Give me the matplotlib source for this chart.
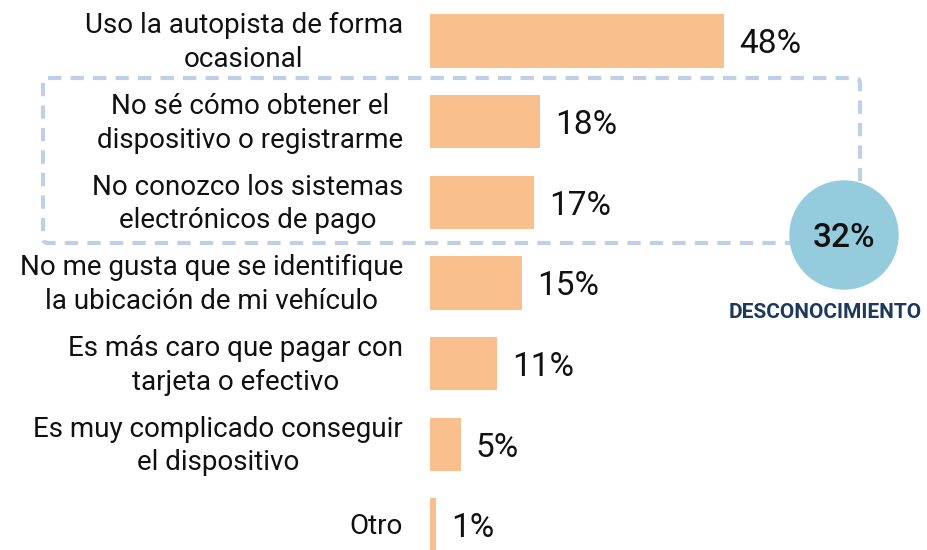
import matplotlib
matplotlib.use("Agg")
import matplotlib.pyplot as plt
from matplotlib.patches import FancyBboxPatch, Circle

categories = [
    "Uso la autopista de forma\nocasional",
    "No sé cómo obtener el\ndispositivo o registrarme",
    "No conozco los sistemas\nelectrónicos de pago",
    "No me gusta que se identifique\nla ubicación de mi vehículo",
    "Es más caro que pagar con\ntarjeta o efectivo",
    "Es muy complicado conseguir\nel dispositivo",
    "Otro",
]
values = [48, 18, 17, 15, 11, 5, 1]
group_total = 32
group_label = "DESCONOCIMIENTO"

plt.rcParams['font.family'] = ['Roboto', 'DejaVu Sans']

W, H = 928, 550
fig = plt.figure(figsize=(W / 100, H / 100), dpi=100)

px_per_unit = 6.125
x0 = 430
ax = fig.add_axes([x0 / W, 0, 1 - x0 / W, 1])
spacing = 80.67
c0 = 41
ax.set_xlim(0, (W - x0) / px_per_unit)
ax.set_ylim((H - c0) / spacing, -c0 / spacing)
ax.axis('off')

bar_color = "#f9c08e"
ys = list(range(len(values)))
ax.barh(ys, values, height=0.66, color=bar_color)
for y, v, lab in zip(ys, values, categories):
    ax.text(v + 15 / px_per_unit, y + 0.04, f"{v}%", va='center', ha='left',
            fontsize=24, color='#111111')
    ax.text(-27 / px_per_unit, y + 0.02, lab, va='center', ha='right',
            multialignment='center', fontsize=20,
            color='#111111', linespacing=1.32, clip_on=False)

# overlay in pixel coordinates
ov = fig.add_axes([0, 0, 1, 1], zorder=5)
ov.set_xlim(0, W)
ov.set_ylim(H, 0)
ov.axis('off')
ov.patch.set_alpha(0)

box = FancyBboxPatch((43, 78), 817, 165, boxstyle="round,pad=0,rounding_size=5",
                     fill=False, edgecolor="#bfd0e6", linewidth=3,
                     linestyle=(0, (3.2, 2.2)))
ov.add_patch(box)
circ = Circle((844, 235), 54, color="#94cbdd", zorder=6)
ov.add_patch(circ)
ov.text(844, 238, f"{group_total}%", ha='center', va='center', fontsize=24,
        fontweight='medium', color='#111111', zorder=7)
ov.text(825, 312, group_label, ha='center', va='center', fontsize=15,
        fontweight='bold', color='#1d3a5e', zorder=7)

fig.savefig("out.png", dpi=100)
